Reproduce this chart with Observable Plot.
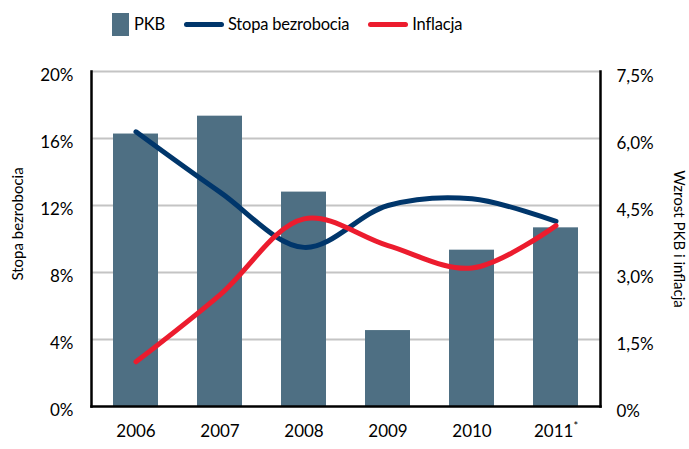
<!DOCTYPE html>
<html><head><meta charset="utf-8">
<script src="https://cdn.jsdelivr.net/npm/d3@7"></script>
<script src="https://cdn.jsdelivr.net/npm/@observablehq/plot@0.6"></script>
<style>
body{margin:0;background:#fff;font-family:Lato,"Open Sans",sans-serif;color:#000;width:689px;height:449px;overflow:hidden;}
#legend{height:48px;display:flex;align-items:center;padding-left:112px;font-size:16.5px;letter-spacing:-0.2px;box-sizing:border-box;}
.item{display:flex;align-items:center;margin-right:19px;}
.sw{display:inline-block;margin-right:5px;}
</style></head><body>
<div id="legend"></div><div id="chart"></div>
<script>
const years = ["2006", "2007", "2008", "2009", "2010", "2011*"];
const pkb = [6.1, 6.5, 4.8, 1.7, 3.5, 4.0];            // right axis
const bezrobocie = [16.4, 12.8, 9.5, 12.0, 12.4, 11.05]; // left axis
const inflacja = [1.0, 2.5, 4.2, 3.6, 3.1, 4.05];       // right axis
const leftTicks = [0, 4, 8, 12, 16, 20];
const rightTickLabels = ["0%", "1,5%", "3,0%", "4,5%", "6,0%", "7,5%"];
const leftMax = 20, rightMax = 7.5;
const seriesNames = ["PKB", "Stopa bezrobocia", "Inflacja"];
const colors = ["#4e6f83", "#00366b", "#ec1c2e"];

const k = leftMax / rightMax;
const rows = years.map((y, i) => ({year: y, pkb: pkb[i], bez: bezrobocie[i], inf: inflacja[i]}));

// legend
const lg = document.getElementById("legend");
seriesNames.forEach((n, i) => {
  const it = document.createElement("div"); it.className = "item";
  const sw = document.createElement("span"); sw.className = "sw";
  if (i === 0) { sw.style.width = "17px"; sw.style.height = "23px"; sw.style.background = colors[0]; }
  else { sw.style.width = "40px"; sw.style.height = "5px"; sw.style.borderRadius = "3px"; sw.style.background = colors[i]; sw.style.marginRight = "4px"; }
  it.appendChild(sw);
  const t = document.createElement("span"); t.textContent = n; it.appendChild(t);
  lg.appendChild(it);
});

const chart = Plot.plot({
  width: 689, height: 401,
  marginTop: 23, marginBottom: 43, marginLeft: 91, marginRight: 89,
  style: {fontFamily: "Lato, 'Open Sans', sans-serif", fontSize: "17px", color: "#000", background: "#fff", overflow: "visible"},
  x: {domain: years, paddingInner: 0.46, paddingOuter: 0.23, axis: null},
  y: {domain: [0, leftMax], axis: null},
  marks: [
    Plot.ruleY(leftTicks.filter(t => t > 0), {stroke: "#c4c4c4", strokeWidth: 2}),
    Plot.barY(rows, {x: "year", y: d => d.pkb * k, fill: colors[0]}),
    Plot.line(rows, {x: "year", y: "bez", stroke: colors[1], strokeWidth: 5, curve: "catmull-rom", strokeLinecap: "round"}),
    Plot.line(rows, {x: "year", y: d => d.inf * k, stroke: colors[2], strokeWidth: 5, curve: "catmull-rom", strokeLinecap: "round"}),
    Plot.axisY(leftTicks, {anchor: "left", tickSize: 0, tickPadding: 18, dy: 4, tickFormat: d => d + "%", label: null}),
    Plot.axisY(leftTicks, {anchor: "right", tickSize: 0, tickPadding: 16, dy: 5, tickFormat: (d, i) => rightTickLabels[i], label: null}),
    Plot.axisX({anchor: "bottom", tickSize: 0, tickPadding: 18, label: null}),
    Plot.text(["Stopa bezrobocia"], {frameAnchor: "left", textAnchor: "middle", rotate: -90, dx: -73, dy: -15, fontSize: 15}),
    Plot.text(["Wzrost PKB i inflacja"], {frameAnchor: "right", textAnchor: "middle", rotate: 90, dx: 78, dy: 0, fontSize: 15}),
    Plot.frame({anchor: "left", stroke: "#000", strokeWidth: 2.5}),
    Plot.frame({anchor: "right", stroke: "#000", strokeWidth: 2.5}),
    Plot.frame({anchor: "bottom", stroke: "#000", strokeWidth: 2.5})
  ]
});
document.getElementById("chart").appendChild(chart);

// superscript asterisk on the last year label
chart.querySelectorAll("text").forEach(t => {
  if (t.textContent === "2011*") {
    t.textContent = "2011";
    const s = document.createElementNS("http://www.w3.org/2000/svg", "tspan");
    s.textContent = "*"; s.setAttribute("font-size", "11"); s.setAttribute("dy", "-7");
    t.appendChild(s);
  }
});
</script>
</body></html>
